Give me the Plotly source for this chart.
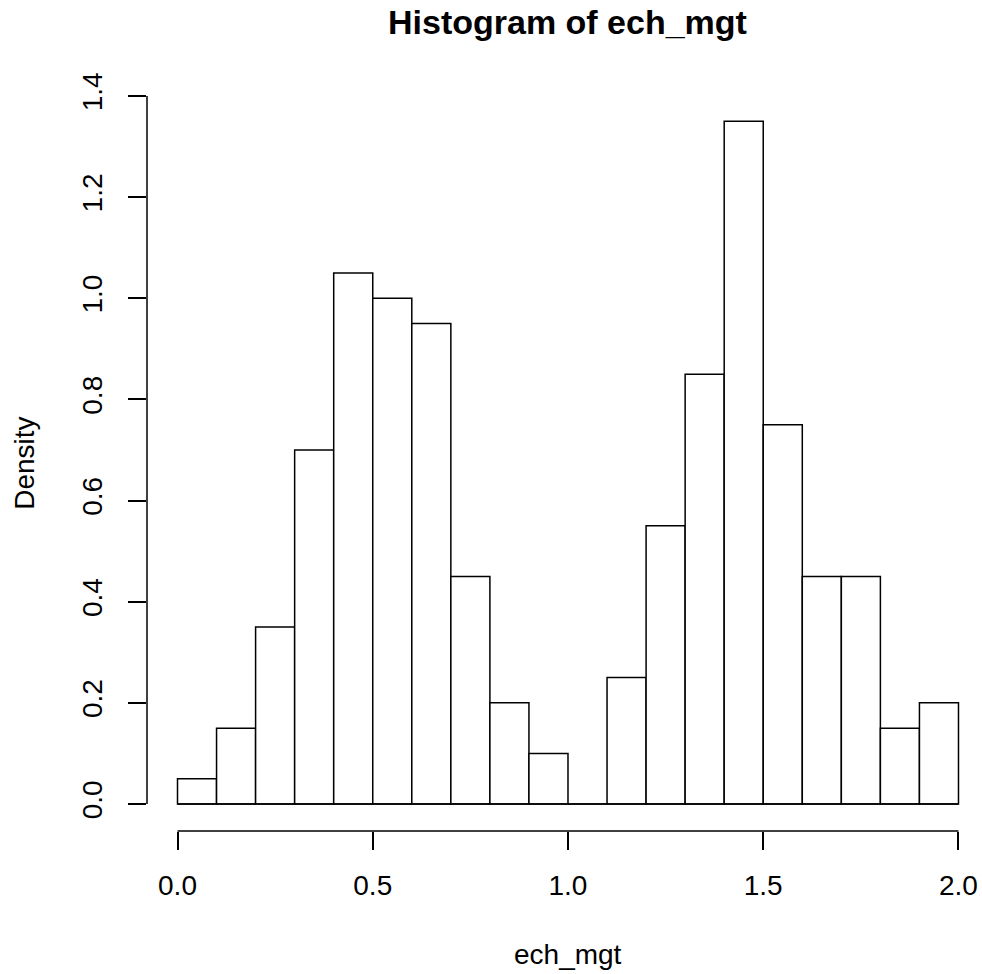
import plotly.graph_objects as go

breaks = [round(i * 0.1, 1) for i in range(21)]
density = [0.05, 0.15, 0.35, 0.70, 1.05, 1.00, 0.95, 0.45, 0.20, 0.10,
           0.00, 0.25, 0.55, 0.85, 1.35, 0.75, 0.45, 0.45, 0.15, 0.20]
x_ticks = [0.0, 0.5, 1.0, 1.5, 2.0]
x_ticklabels = ["0.0", "0.5", "1.0", "1.5", "2.0"]
y_ticks = [0.0, 0.2, 0.4, 0.6, 0.8, 1.0, 1.2, 1.4]
y_ticklabels = ["0.0", "0.2", "0.4", "0.6", "0.8", "1.0", "1.2", "1.4"]

mids = [(breaks[i] + breaks[i + 1]) / 2 for i in range(len(density))]
widths = [breaks[i + 1] - breaks[i] for i in range(len(density))]

FONT = "Liberation Sans, Arial, Helvetica, sans-serif"
LW = 1.5

fig = go.Figure()
fig.add_trace(go.Bar(
    x=mids, y=density, width=widths,
    marker=dict(color="white", line=dict(color="black", width=LW)),
    showlegend=False, hoverinfo="x+y",
))

W, H = 982, 974
L, R, T, B = 147, 0, 95, 143

fig.update_layout(
    width=W, height=H,
    margin=dict(l=L, r=R, t=T, b=B, pad=0),
    plot_bgcolor="white", paper_bgcolor="white",
    font=dict(family=FONT, size=28, color="black"),
    xaxis=dict(
        range=[-0.0781, 2.0602], showgrid=False, zeroline=False, showline=False,
        tickmode="array", tickvals=x_ticks, ticktext=x_ticklabels,
        ticks="outside", ticklen=18, tickwidth=LW, tickcolor="black",
        tickfont=dict(size=28), ticklabelstandoff=11,
    ),
    yaxis=dict(
        range=[-0.0534, 1.402], showgrid=False, zeroline=False, showline=False,
        tickmode="array", tickvals=y_ticks, ticktext=y_ticklabels,
        ticks="outside", ticklen=18, tickwidth=LW, tickcolor="black",
        tickangle=-90, tickfont=dict(size=28), ticklabelstandoff=15,
    ),
    shapes=[
        dict(type="line", xref="x", yref="paper", x0=x_ticks[0], x1=x_ticks[-1], y0=0, y1=0,
             line=dict(color="black", width=LW)),
        dict(type="line", xref="paper", yref="y", x0=0, x1=0, y0=y_ticks[0], y1=y_ticks[-1],
             line=dict(color="black", width=LW)),
        dict(type="line", xref="x", yref="y", x0=breaks[0], x1=breaks[-1], y0=0, y1=0,
             line=dict(color="black", width=LW)),
    ],
    annotations=[
        dict(text="<b>Histogram of ech_mgt</b>", xref="x", yref="paper",
             x=(breaks[0] + breaks[-1]) / 2, y=1.099, xanchor="center", yanchor="middle",
             showarrow=False, font=dict(size=34, family=FONT)),
        dict(text="ech_mgt", xref="x", yref="paper",
             x=(breaks[0] + breaks[-1]) / 2, y=-0.1675, xanchor="center", yanchor="middle",
             showarrow=False, font=dict(size=28, family=FONT)),
        dict(text="Density", xref="paper", yref="paper", x=-0.1475, y=0.5,
             xanchor="center", yanchor="middle", textangle=-90,
             showarrow=False, font=dict(size=28, family=FONT)),
    ],
)

fig.write_html("out.html")
